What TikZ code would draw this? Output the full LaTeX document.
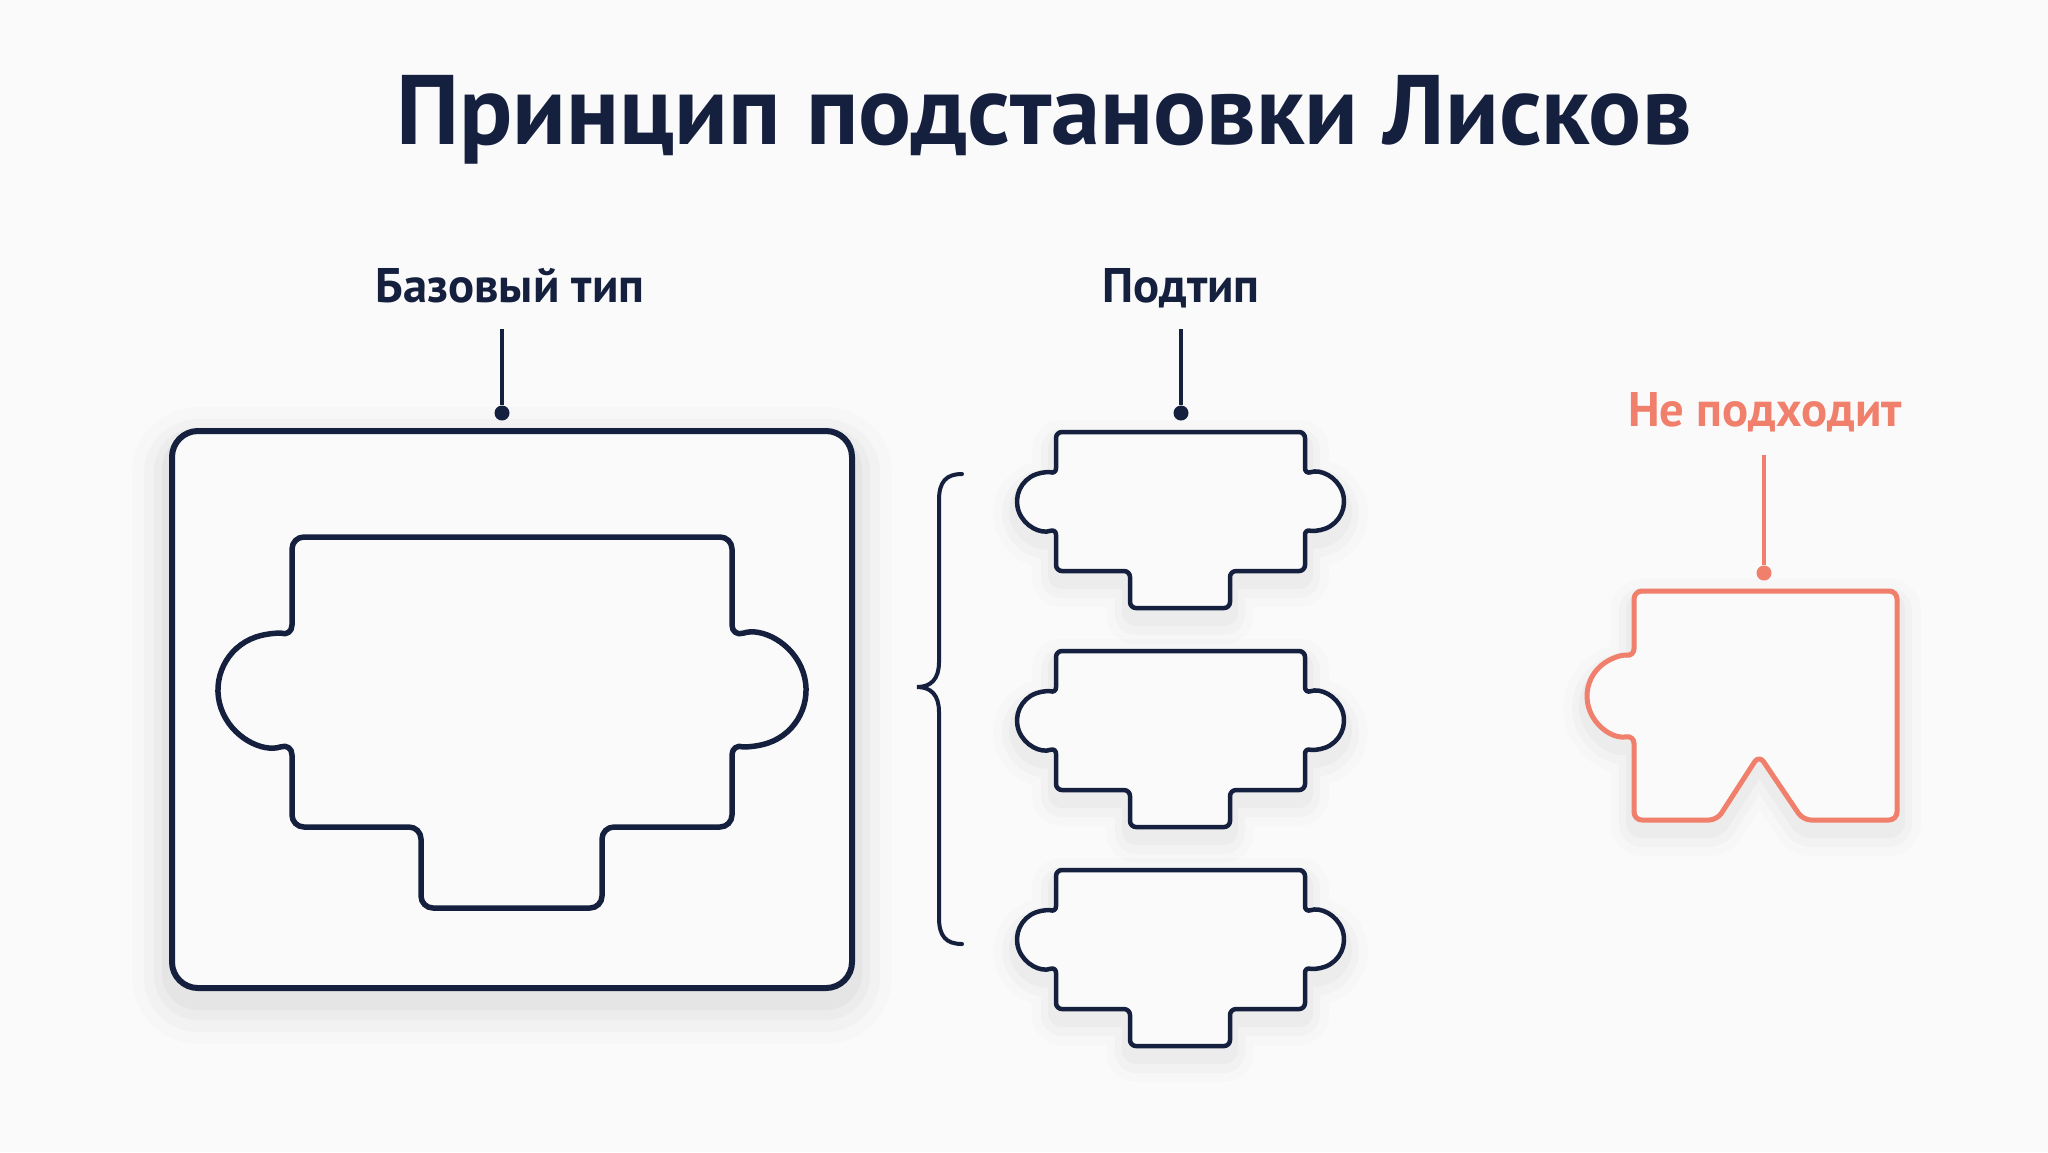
\documentclass[tikz,border=0pt]{standalone}
\usepackage{fontspec}
\setmainfont{PT Sans}
\definecolor{navy}{HTML}{15203F}
\definecolor{salmon}{HTML}{F07F6B}
\definecolor{bgc}{HTML}{FAFAFA}
\tikzset{
  bigshadow/.style={
    preaction={draw=black, draw opacity=0.012, line width=40pt, transform canvas={yshift=-8pt}},
    preaction={draw=black, draw opacity=0.018, line width=28pt, transform canvas={yshift=-8pt}},
    preaction={draw=black, draw opacity=0.022, line width=18pt, transform canvas={yshift=-7pt}},
    preaction={draw=black, draw opacity=0.028, line width=10pt, transform canvas={yshift=-6pt}},
  },
  shadowed/.style={
    preaction={draw=black, draw opacity=0.012, line width=24pt, transform canvas={yshift=-6pt}},
    preaction={draw=black, draw opacity=0.018, line width=15pt, transform canvas={yshift=-6pt}},
    preaction={draw=black, draw opacity=0.025, line width=8pt, transform canvas={yshift=-5pt}},
  },
  outerbox/.style={draw=navy, line width=3pt, fill=bgc, rounded corners=13pt, bigshadow},
  basepc/.style={draw=navy, line width=2.75pt, fill=bgc, rounded corners=6pt, line join=round},
  subpc/.style={draw=navy, line width=2.25pt, fill=bgc, rounded corners=3pt, line join=round, shadowed},
  badpc/.style={draw=salmon, line width=2.5pt, fill=bgc, rounded corners=4pt, line join=round, shadowed},
  lbl/.style={anchor=base, font=\fontsize{24.3}{29}\selectfont\bfseries},
  conn/.style={line width=2pt},
  dotnode/.style={circle, inner sep=0pt, minimum size=7.5pt},
}
\newcommand\subpiece[2]{%
  \draw[subpc] (#1,-#2) -- ++(249,0) -- ++(0,-42.3)
    arc[start angle=110.2, end angle=-110.2, radius=29]
    -- ++(0,-42.3) -- ++(-75,0) -- ++(0,-37) -- ++(-100,0) -- ++(0,37) -- ++(-74,0)
    -- ++(0,42.3)
    arc[start angle=-69.8, end angle=-290.2, radius=29] -- cycle;}
\begin{document}
\begin{tikzpicture}[x=0.5pt,y=0.5pt]
\fill[bgc] (0,0) rectangle (2048,-1152);
\useasboundingbox (0,0) rectangle (2048,-1152);

% title
\node[anchor=base, text=navy, font=\fontsize{49.4}{60}\selectfont\bfseries] (title) at (1044,-144) {Принцип подстановки Лисков};

% labels
\node[lbl, text=navy] (lblbase) at (510,-302) {Базовый тип};
\node[lbl, text=navy] (lblsub) at (1181,-302) {Подтип};
\node[lbl, text=salmon] (lblbad) at (1765,-426) {Не подходит};

% base type: outer frame
\draw[outerbox] (172,-431) rectangle (852,-988);
% base inner piece
\draw[basepc] (292,-537) -- (732,-537) -- (732,-637)
  arc[start angle=108.8, end angle=-108.8, radius=56]
  -- (732,-827) -- (602,-827) -- (602,-908) -- (421,-908) -- (421,-827) -- (292,-827) -- (292,-743)
  arc[start angle=-71.2, end angle=-288.8, radius=56] -- cycle;

% subtypes
\subpiece{1056}{432}
\subpiece{1056}{651}
\subpiece{1056}{870}

% brace
\draw[navy, line width=2pt, line cap=round]
  (962,-474) .. controls (946,-474) and (939,-482) .. (939,-500) -- (939,-662)
  .. controls (939,-679) and (931,-687) .. (917,-687)
  .. controls (931,-687) and (939,-695) .. (939,-712) -- (939,-918)
  .. controls (939,-936) and (946,-944) .. (962,-944);

% bad piece
\draw[badpc] (1634,-591) -- (1897,-591) -- (1897,-820) -- (1803,-820) -- (1759,-755) -- (1717,-820) -- (1634,-820) -- (1634,-735.4)
  arc[start angle=-79.9, end angle=-280.1, radius=40] -- cycle;

% connectors
\coordinate (cbase) at (502,-329);
\node[dotnode, fill=navy] (dbase) at (502,-413) {};
\draw[conn, navy] (cbase) -- (dbase);
\coordinate (csub) at (1181,-329);
\node[dotnode, fill=navy] (dsub) at (1181,-413) {};
\draw[conn, navy] (csub) -- (dsub);
\coordinate (cbad) at (1764,-455);
\node[dotnode, fill=salmon] (dbad) at (1764,-573) {};
\draw[conn, salmon] (cbad) -- (dbad);
\end{tikzpicture}
\end{document}
